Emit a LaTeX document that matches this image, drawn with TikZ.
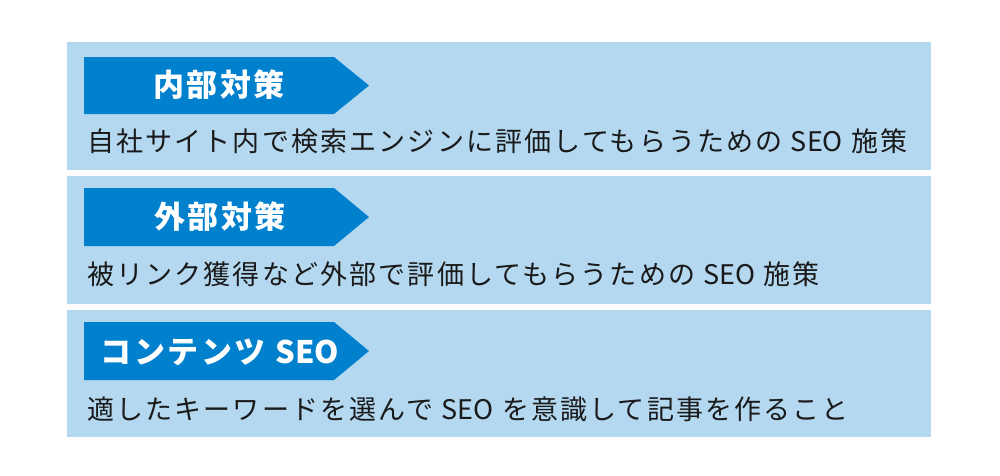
\documentclass[tikz,border=0pt]{standalone}
\usepackage{fontspec}
\setmainfont{Noto Sans CJK JP}
\newfontfamily\jpbody[LetterSpace=8]{Noto Sans CJK JP}
\newfontfamily\jptitle[LetterSpace=8]{Noto Sans CJK JP}
\newfontfamily\latnplain{Noto Sans CJK JP}
\newcommand{\seo}{{\latnplain SEO}}
\definecolor{panelblue}{RGB}{179,216,240}
\definecolor{tagblue}{RGB}{0,128,205}
\definecolor{bodytext}{RGB}{26,26,26}
\tikzset{
  panel/.style={fill=panelblue, draw=none, inner sep=0pt, minimum width=864pt, anchor=north west},
  tagtext/.style={text=white, font=\jptitle\bfseries\fontsize{31}{33}\selectfont, inner sep=0pt},
  bodyline/.style={text=bodytext, font=\jpbody\fontsize{27}{31}\selectfont, inner sep=0pt, anchor=west},
}
\begin{document}
\begin{tikzpicture}[x=1pt,y=-1pt]
\useasboundingbox (0,0) rectangle (1000,475);
% panels
\node[panel, minimum height=128pt] (p1) at (67,42) {};
\node[panel, minimum height=128pt] (p2) at (67,176) {};
\node[panel, minimum height=127pt] (p3) at (67,310) {};
% tags
\fill[tagblue] (84,57) -- (334,57) -- (369,85.5) -- (334,114) -- (84,114) -- cycle;
\fill[tagblue] (84,188) -- (334,188) -- (369,217) -- (334,246) -- (84,246) -- cycle;
\fill[tagblue] (84,322) -- (334,322) -- (369,351) -- (334,380) -- (84,380) -- cycle;
\node[tagtext] (t1) at (219,85) {内部対策};
\node[tagtext] (t2) at (220,217) {外部対策};
\node[tagtext] (t3) at (220,352) {コンテンツ \seo};
% body text
\node[bodyline] (b1) at (87,141) {自社サイト内で検索エンジンに評価してもらうための \seo{} 施策};
\node[bodyline] (b2) at (87,274) {被リンク獲得など外部で評価してもらうための \seo{} 施策};
\node[bodyline] (b3) at (87,409) {適したキーワードを選んで \seo{} を意識して記事を作ること};
\end{tikzpicture}
\end{document}
